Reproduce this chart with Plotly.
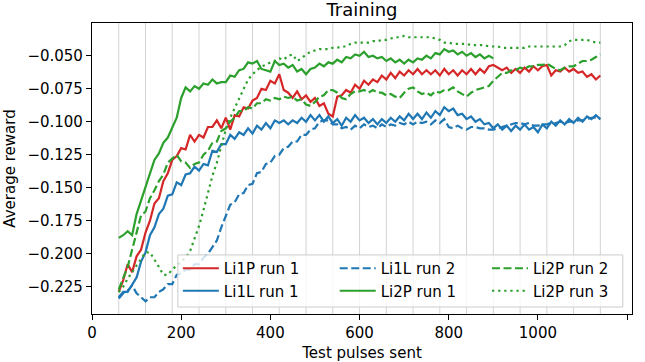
import plotly.graph_objects as go

# ---------------- data ----------------
pulses = list(range(60, 1150, 10))          # test pulses sent (60 ... 1140)
pulses_li2p_run1 = list(range(60, 910, 10)) # Li2P run 1 stops at 900
epoch_marks = list(range(60, 1141, 60))     # vertical epoch lines

li1p_run1 = [
    -0.229, -0.220, -0.208, -0.214, -0.202, -0.197, -0.184, -0.175, -0.162, -0.158,
    -0.145, -0.139, -0.129, -0.126, -0.120, -0.121, -0.110, -0.115, -0.110, -0.112,
    -0.104, -0.104, -0.099, -0.105, -0.097, -0.106, -0.095, -0.096, -0.089, -0.090,
    -0.084, -0.082, -0.075, -0.076, -0.069, -0.071, -0.064, -0.076, -0.078, -0.082,
    -0.077, -0.083, -0.080, -0.085, -0.082, -0.088, -0.086, -0.094, -0.096, -0.081,
    -0.080, -0.076, -0.078, -0.072, -0.075, -0.069, -0.072, -0.068, -0.070, -0.065,
    -0.068, -0.063, -0.067, -0.062, -0.065, -0.061, -0.064, -0.060, -0.064, -0.061,
    -0.064, -0.061, -0.065, -0.060, -0.064, -0.061, -0.065, -0.061, -0.064, -0.060,
    -0.064, -0.060, -0.063, -0.058, -0.057, -0.059, -0.061, -0.059, -0.063, -0.060,
    -0.063, -0.059, -0.062, -0.058, -0.061, -0.058, -0.057, -0.065, -0.061, -0.062,
    -0.059, -0.062, -0.060, -0.063, -0.062, -0.066, -0.064, -0.068, -0.065,
]

li1l_run1 = [
    -0.233, -0.229, -0.229, -0.224, -0.218, -0.206, -0.199, -0.186, -0.180, -0.170,
    -0.166, -0.156, -0.155, -0.146, -0.148, -0.140, -0.139, -0.134, -0.137, -0.132,
    -0.133, -0.122, -0.123, -0.117, -0.117, -0.110, -0.113, -0.108, -0.110, -0.105,
    -0.109, -0.103, -0.106, -0.101, -0.105, -0.099, -0.101, -0.099, -0.102, -0.099,
    -0.101, -0.097, -0.100, -0.095, -0.099, -0.095, -0.100, -0.096, -0.101, -0.098,
    -0.103, -0.097, -0.100, -0.095, -0.099, -0.097, -0.101, -0.098, -0.102, -0.098,
    -0.101, -0.097, -0.100, -0.096, -0.099, -0.094, -0.098, -0.094, -0.098, -0.093,
    -0.097, -0.092, -0.095, -0.089, -0.092, -0.090, -0.095, -0.094, -0.098, -0.096,
    -0.100, -0.098, -0.102, -0.101, -0.105, -0.102, -0.106, -0.103, -0.107, -0.103,
    -0.106, -0.102, -0.106, -0.104, -0.108, -0.102, -0.105, -0.100, -0.103, -0.099,
    -0.102, -0.098, -0.101, -0.097, -0.100, -0.096, -0.098, -0.095, -0.098,
]

li1l_run2 = [
    -0.234, -0.230, -0.228, -0.224, -0.230, -0.233, -0.236, -0.233, -0.233, -0.229,
    -0.227, -0.223, -0.223, -0.216, -0.215, -0.212, -0.212, -0.208, -0.208, -0.203,
    -0.200, -0.195, -0.190, -0.180, -0.172, -0.163, -0.161, -0.155, -0.154, -0.148,
    -0.147, -0.139, -0.138, -0.132, -0.131, -0.126, -0.125, -0.120, -0.119, -0.115,
    -0.115, -0.110, -0.110, -0.106, -0.105, -0.100, -0.099, -0.099, -0.102, -0.102,
    -0.105, -0.104, -0.106, -0.103, -0.105, -0.102, -0.104, -0.103, -0.105, -0.102,
    -0.104, -0.102, -0.103, -0.101, -0.102, -0.100, -0.102, -0.100, -0.101, -0.100,
    -0.102, -0.099, -0.101, -0.098, -0.104, -0.105, -0.103, -0.105, -0.106, -0.104,
    -0.104, -0.105, -0.105, -0.106, -0.106, -0.105, -0.104, -0.103, -0.102, -0.101,
    -0.101, -0.102, -0.101, -0.103, -0.103, -0.102, -0.102, -0.101, -0.101, -0.100,
    -0.101, -0.100, -0.100, -0.099, -0.099, -0.098, -0.097, -0.097, -0.098,
]

li2p_run1 = [
    -0.188, -0.186, -0.183, -0.186, -0.170, -0.160, -0.149, -0.140, -0.129, -0.124,
    -0.116, -0.112, -0.104, -0.097, -0.082, -0.074, -0.077, -0.073, -0.075, -0.071,
    -0.072, -0.068, -0.071, -0.070, -0.070, -0.065, -0.066, -0.061, -0.060, -0.055,
    -0.056, -0.054, -0.060, -0.061, -0.062, -0.054, -0.057, -0.056, -0.059, -0.057,
    -0.062, -0.060, -0.064, -0.060, -0.059, -0.056, -0.058, -0.055, -0.056, -0.053,
    -0.055, -0.051, -0.052, -0.049, -0.050, -0.047, -0.051, -0.050, -0.052, -0.051,
    -0.054, -0.052, -0.055, -0.053, -0.056, -0.053, -0.055, -0.052, -0.053, -0.050,
    -0.052, -0.048, -0.049, -0.045, -0.047, -0.046, -0.049, -0.047, -0.050, -0.048,
    -0.051, -0.049, -0.052, -0.050, -0.052,
]

li2p_run2 = [
    -0.227, -0.218, -0.210, -0.197, -0.185, -0.171, -0.168, -0.158, -0.152, -0.145,
    -0.140, -0.131, -0.128, -0.125, -0.130, -0.131, -0.135, -0.132, -0.131, -0.125,
    -0.122, -0.116, -0.115, -0.107, -0.105, -0.100, -0.097, -0.092, -0.092, -0.089,
    -0.090, -0.086, -0.086, -0.083, -0.084, -0.082, -0.083, -0.081, -0.082, -0.081,
    -0.084, -0.083, -0.087, -0.088, -0.085, -0.081, -0.080, -0.076, -0.076, -0.078,
    -0.082, -0.083, -0.079, -0.077, -0.077, -0.076, -0.078, -0.076, -0.078, -0.078,
    -0.080, -0.079, -0.081, -0.082, -0.078, -0.075, -0.074, -0.077, -0.079, -0.078,
    -0.080, -0.077, -0.078, -0.076, -0.076, -0.074, -0.077, -0.079, -0.081, -0.078,
    -0.076, -0.075, -0.074, -0.073, -0.069, -0.066, -0.063, -0.063, -0.061, -0.061,
    -0.059, -0.060, -0.058, -0.058, -0.057, -0.057, -0.056, -0.058, -0.060, -0.061,
    -0.059, -0.058, -0.058, -0.056, -0.054, -0.054, -0.053, -0.051, -0.049,
]

li2p_run3 = [
    -0.229, -0.225, -0.219, -0.214, -0.208, -0.203, -0.199, -0.199, -0.204, -0.210,
    -0.216, -0.216, -0.212, -0.209, -0.206, -0.203, -0.198, -0.189, -0.179, -0.167,
    -0.153, -0.141, -0.131, -0.118, -0.106, -0.097, -0.090, -0.083, -0.075, -0.068,
    -0.064, -0.061, -0.058, -0.057, -0.055, -0.054, -0.052, -0.053, -0.050, -0.049,
    -0.054, -0.052, -0.049, -0.047, -0.046, -0.045, -0.045, -0.045, -0.044, -0.044,
    -0.043, -0.043, -0.041, -0.040, -0.040, -0.040, -0.040, -0.039, -0.039, -0.038,
    -0.038, -0.037, -0.036, -0.036, -0.035, -0.036, -0.036, -0.036, -0.036, -0.036,
    -0.036, -0.037, -0.038, -0.040, -0.040, -0.041, -0.041, -0.041, -0.041, -0.042,
    -0.042, -0.042, -0.042, -0.043, -0.043, -0.043, -0.044, -0.044, -0.044, -0.044,
    -0.044, -0.044, -0.043, -0.043, -0.043, -0.043, -0.043, -0.043, -0.043, -0.043,
    -0.042, -0.039, -0.038, -0.038, -0.038, -0.038, -0.039, -0.040, -0.040,
]

x_ticks = [0, 200, 400, 600, 800, 1000, 1200]
y_ticks = [-0.225, -0.200, -0.175, -0.150, -0.125, -0.100, -0.075, -0.050]

RED = "#d62728"
BLUE = "#1f77b4"
GREEN = "#2ca02c"
DASH = "8px,3.5px"
DOT = "2.3px,3.8px"
FONT = "DejaVu Sans"

# (name, x, y, colour, dash, legend column) in drawing order
series = [
    ("Li1P run 1", pulses, li1p_run1, RED, "solid", "legend"),
    ("Li1L run 1", pulses, li1l_run1, BLUE, "solid", "legend"),
    ("Li1L run 2", pulses, li1l_run2, BLUE, DASH, "legend2"),
    ("Li2P run 1", pulses_li2p_run1, li2p_run1, GREEN, "solid", "legend2"),
    ("Li2P run 2", pulses, li2p_run2, GREEN, DASH, "legend3"),
    ("Li2P run 3", pulses, li2p_run3, GREEN, DOT, "legend3"),
]

fig = go.Figure()
for name, xs, ys, col, dash, leg in series:
    fig.add_trace(go.Scatter(
        x=xs, y=ys, mode="lines", name=name, legend=leg,
        line=dict(color=col, width=2.2, dash=dash),
    ))

for xm in epoch_marks:
    fig.add_shape(type="line", xref="x", yref="paper", x0=xm, x1=xm, y0=0, y1=1,
                  line=dict(color="#d3d3d3", width=1), layer="below")

# legend frame (shared by the three legend columns)
fig.add_shape(type="rect", xref="paper", yref="paper",
              x0=0.159, x1=0.983, y0=0.024, y1=0.203,
              fillcolor="rgba(255,255,255,0.8)",
              line=dict(color="#cccccc", width=1), layer="above")

axis_common = dict(
    showgrid=False, zeroline=False, showline=True, mirror=True,
    linecolor="black", linewidth=1.2, ticks="outside", ticklen=5,
    tickwidth=1.2, tickcolor="black", automargin=False,
    tickfont=dict(family=FONT, size=15, color="black"),
)

leg_common = dict(orientation="v", xanchor="left", yanchor="top", y=0.213,
                  bgcolor="rgba(0,0,0,0)", borderwidth=0, itemwidth=36,
                  font=dict(family=FONT, size=15, color="black"))

fig.update_layout(
    width=645, height=362,
    margin=dict(l=92, r=13, t=23, b=48),
    paper_bgcolor="white", plot_bgcolor="white",
    font=dict(family=FONT, size=15, color="black"),
    title=dict(text="Training", x=0.5, xref="paper", xanchor="center",
               y=0.972, yref="container", yanchor="middle",
               font=dict(family=FONT, size=18, color="black")),
    xaxis=dict(range=[0, 1211], tickvals=x_ticks,
               title=dict(text="Test pulses sent", standoff=7,
                          font=dict(family=FONT, size=15, color="black")),
               **axis_common),
    yaxis=dict(range=[-0.2457, -0.0252], tickvals=y_ticks, tickformat=".3f",
               title=dict(text="Average reward", standoff=8,
                          font=dict(family=FONT, size=15, color="black")),
               **axis_common),
    legend=dict(x=0.159, **leg_common),
    legend2=dict(x=0.4495, **leg_common),
    legend3=dict(x=0.7315, **leg_common),
    showlegend=True,
)

fig.write_html("out.html",
               config={"displayModeBar": False},
               post_script="document.body.style.margin='0';")
